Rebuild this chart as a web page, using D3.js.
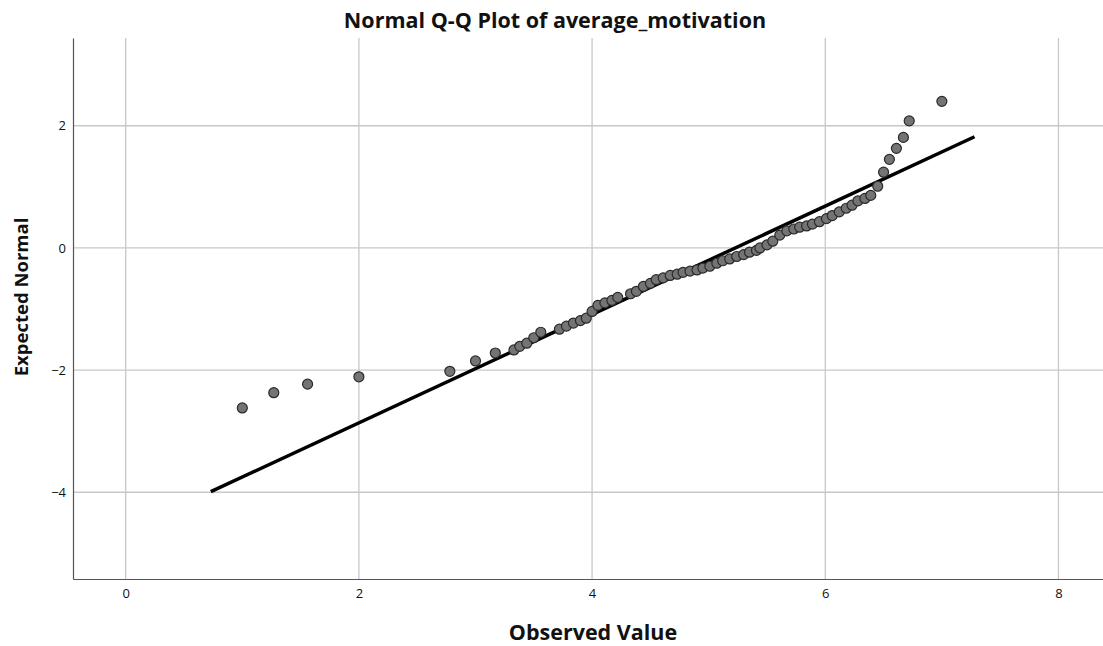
<!DOCTYPE html>
<html>
<head>
<meta charset="utf-8">
<script src="https://cdn.jsdelivr.net/npm/d3@7"></script>
<style>
  body { margin: 0; background: #fff; }
  text { font-family: 'Open Sans', 'Liberation Sans', sans-serif; }
</style>
</head>
<body>
<div id="chart"></div>
<script>
// observed values (distinct) and their expected normal scores
const observed = [
  1.0, 1.27, 1.56, 2.0, 2.78, 3.0, 3.17, 3.33, 3.38, 3.44, 3.5, 3.56,
  3.72, 3.78, 3.84, 3.9, 3.95, 4.0, 4.05, 4.11, 4.17, 4.22, 4.33, 4.38,
  4.44, 4.5, 4.55, 4.61, 4.67, 4.73, 4.78, 4.84, 4.9, 4.95, 5.01, 5.07,
  5.12, 5.18, 5.24, 5.3, 5.35, 5.41, 5.44, 5.5, 5.55, 5.61, 5.67, 5.73,
  5.78, 5.84, 5.89, 5.95, 6.01, 6.06, 6.12, 6.18, 6.23, 6.28, 6.34, 6.39,
  6.45, 6.5, 6.55, 6.61, 6.67, 6.72, 7.0
];
const expected = [
  -2.62, -2.37, -2.23, -2.11, -2.02, -1.85, -1.72, -1.67, -1.61, -1.56, -1.47, -1.38,
  -1.33, -1.28, -1.23, -1.19, -1.15, -1.04, -0.94, -0.9, -0.86, -0.81, -0.75, -0.71,
  -0.63, -0.58, -0.52, -0.49, -0.45, -0.43, -0.4, -0.38, -0.36, -0.33, -0.3, -0.25,
  -0.21, -0.18, -0.14, -0.11, -0.07, -0.04, 0.0, 0.05, 0.11, 0.21, 0.28, 0.31,
  0.34, 0.36, 0.39, 0.43, 0.48, 0.53, 0.59, 0.65, 0.7, 0.77, 0.81, 0.86,
  1.01, 1.24, 1.45, 1.63, 1.81, 2.08, 2.4
];
// reference line endpoints
const lineX = [0.73, 7.28];
const lineY = [-3.99, 1.82];

const xTicks = [0, 2, 4, 6, 8];
const yTicks = [-4, -2, 0, 2];

const W = 1103, H = 646;
const margin = { top: 38, right: 0, bottom: 67, left: 73 };
const width = W - margin.left - margin.right,
  height = H - margin.top - margin.bottom;

const x = d3.scaleLinear().domain([-0.452, 8.382]).range([0, width]);
const y = d3.scaleLinear().domain([-5.42, 3.437]).range([height, 0]);

const svg = d3
  .select('#chart')
  .append('svg')
  .attr('width', W)
  .attr('height', H);

const g = svg
  .append('g')
  .attr('transform', 'translate(' + margin.left + ',' + margin.top + ')');

// grid
g.append('g')
  .selectAll('line')
  .data(xTicks)
  .enter()
  .append('line')
  .attr('x1', d => x(d))
  .attr('x2', d => x(d))
  .attr('y1', 0)
  .attr('y2', height)
  .attr('stroke', '#c8c8c8')
  .attr('stroke-width', 1.3);

g.append('g')
  .selectAll('line')
  .data(yTicks)
  .enter()
  .append('line')
  .attr('x1', 0)
  .attr('x2', width)
  .attr('y1', d => y(d))
  .attr('y2', d => y(d))
  .attr('stroke', '#c8c8c8')
  .attr('stroke-width', 1.3);

// axes
const xAxis = g
  .append('g')
  .attr('transform', 'translate(0,' + height + ')')
  .call(d3.axisBottom(x).tickValues(xTicks).tickSize(0).tickPadding(10));
const yAxis = g
  .append('g')
  .call(d3.axisLeft(y).tickValues(yTicks).tickSize(0).tickPadding(7).tickFormat(d3.format('d')));

[xAxis, yAxis].forEach(a => {
  a.select('.domain').attr('stroke', '#555').attr('stroke-width', 1.2);
  a.selectAll('text')
    .attr('fill', '#111')
    .style('font-size', '13px')
    .style('font-family', "'Open Sans', sans-serif");
});
yAxis.selectAll('text').text(d => (d < 0 ? '\u2212' + Math.abs(d) : d));

// reference line
g.append('line')
  .attr('x1', x(lineX[0]))
  .attr('y1', y(lineY[0]))
  .attr('x2', x(lineX[1]))
  .attr('y2', y(lineY[1]))
  .attr('stroke', '#000')
  .attr('stroke-width', 3.5);

// points
g.append('g')
  .selectAll('circle')
  .data(observed.map((d, i) => [d, expected[i]]))
  .enter()
  .append('circle')
  .attr('cx', d => x(d[0]))
  .attr('cy', d => y(d[1]))
  .attr('r', 5)
  .attr('fill', '#747474')
  .attr('stroke', '#2a2a2a')
  .attr('stroke-width', 1.2);

// titles
svg.append('text')
  .attr('x', 555)
  .attr('y', 28)
  .attr('text-anchor', 'middle')
  .style('font-size', '21.5px')
  .style('font-weight', 'bold')
  .attr('fill', '#111')
  .text('Normal Q-Q Plot of average_motivation');

svg.append('text')
  .attr('x', 593)
  .attr('y', 640)
  .attr('text-anchor', 'middle')
  .style('font-size', '21.5px')
  .style('font-weight', 'bold')
  .attr('fill', '#111')
  .text('Observed Value');

svg.append('text')
  .attr('transform', 'translate(28,297) rotate(-90)')
  .attr('text-anchor', 'middle')
  .style('font-size', '18.5px')
  .style('font-weight', 'bold')
  .attr('fill', '#111')
  .text('Expected Normal');
</script>
</body>
</html>
